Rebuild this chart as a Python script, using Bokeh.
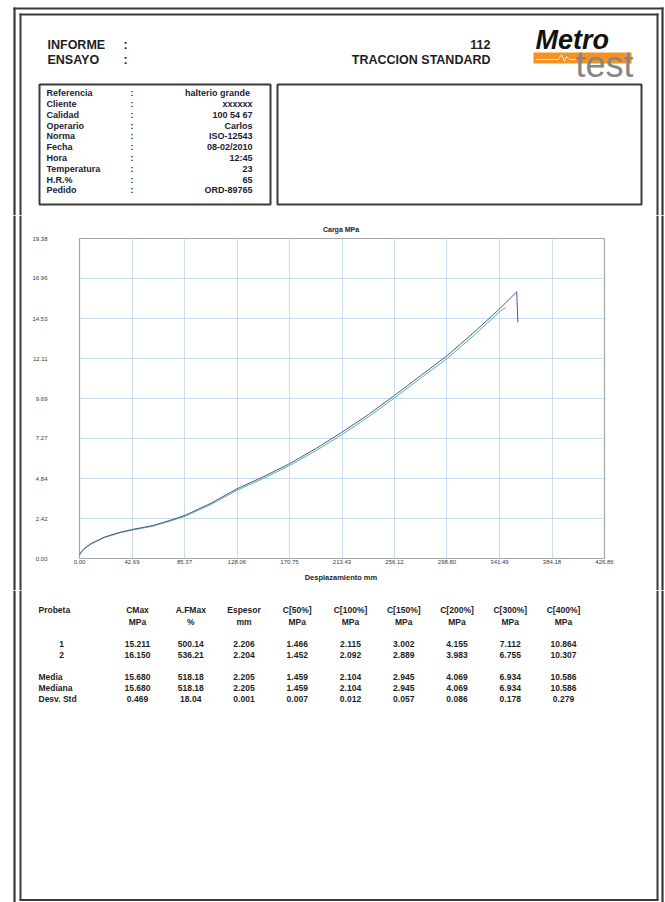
from bokeh.plotting import figure
from bokeh.layouts import column, row
from bokeh.models import Range1d, FixedTicker, PrintfTickFormatter, Div
from bokeh.core.properties import value
from bokeh.embed import file_html
from bokeh.resources import INLINE

# ---------------- data ----------------
informe_value = "112"
ensayo_value = "TRACCION STANDARD"
header_labels = ["INFORME", "ENSAYO"]
header_values = [informe_value, ensayo_value]

info_labels = ["Referencia", "Cliente", "Calidad", "Operario", "Norma", "Fecha",
               "Hora", "Temperatura", "H.R.%", "Pedido"]
info_values = ["halterio  grande", "xxxxxx", "100 54 67", "Carlos", "ISO-12543",
               "08-02/2010", "12:45", "23", "65", "ORD-89765"]

x_ticks = [0.00, 42.69, 85.37, 128.06, 170.75, 213.43, 256.12, 298.80, 341.49, 384.18, 426.86]
y_ticks = [0.00, 2.42, 4.84, 7.27, 9.69, 12.11, 14.53, 16.96, 19.38]

# probeta 1 (teal)
disp_1 = [0, 3, 9, 20, 33, 43, 60, 74, 86, 107, 128, 150, 171, 192, 213, 235, 256, 277, 299, 320, 341, 346.5]
load_1 = [0.22, 0.52, 0.86, 1.26, 1.56, 1.72, 1.96, 2.27, 2.56, 3.28, 4.13, 4.87, 5.64, 6.52, 7.48, 8.58, 9.72,
          10.90, 12.12, 13.47, 14.90, 15.21]
# probeta 2 (dark)
disp_2 = [0, 3, 9, 20, 33, 43, 60, 74, 86, 107, 128, 150, 171, 192, 213, 235, 256, 277, 299, 320, 341, 355.5, 356.4]
load_2 = [0.24, 0.55, 0.89, 1.29, 1.59, 1.76, 2.00, 2.32, 2.62, 3.35, 4.22, 4.97, 5.75, 6.65, 7.63, 8.72, 9.87,
          11.05, 12.29, 13.65, 15.08, 16.15, 14.31]

table_cols = ["CMax", "A.FMax", "Espesor", "C[50%]", "C[100%]", "C[150%]", "C[200%]", "C[300%]", "C[400%]"]
table_units = ["MPa", "%", "mm", "MPa", "MPa", "MPa", "MPa", "MPa", "MPa"]
probeta_ids = ["1", "2"]
probeta_1 = ["15.211", "500.14", "2.206", "1.466", "2.115", "3.002", "4.155", "7.112", "10.864"]
probeta_2 = ["16.150", "536.21", "2.204", "1.452", "2.092", "2.889", "3.983", "6.755", "10.307"]
stat_names = ["Media", "Mediana", "Desv. Std"]
media = ["15.680", "518.18", "2.205", "1.459", "2.104", "2.945", "4.069", "6.934", "10.586"]
mediana = ["15.680", "518.18", "2.205", "1.459", "2.104", "2.945", "4.069", "6.934", "10.586"]
desv_std = ["0.469", "18.04", "0.001", "0.007", "0.012", "0.057", "0.086", "0.178", "0.279"]

# ---------------- styles ----------------
FONT = value("Liberation Sans")
INK = "#1e1e1e"
FRAME = "#3a3a3a"
PAGE_W, PAGE_H = 665, 902


def canvas(x0, x1, y0, y1):
    """A figure whose frame is a blank sheet in page pixel coordinates (y downwards)."""
    f = figure(width=int(x1 - x0), height=int(y1 - y0), x_range=Range1d(x0, x1), y_range=Range1d(y1, y0),
               output_backend="svg", toolbar_location=None, x_axis_type=None, y_axis_type=None,
               min_border=0, outline_line_color=None, background_fill_color="white",
               border_fill_color="white")
    f.grid.visible = False
    return f


def frame_sides(f, y0, y1, inner_y0=None, inner_y1=None):
    f.segment(x0=[14, 662], y0=[y0, y0], x1=[14, 662], y1=[y1, y1], line_color=FRAME, line_width=2.2)
    a = y0 if inner_y0 is None else inner_y0
    b = y1 if inner_y1 is None else inner_y1
    f.segment(x0=[20, 657], y0=[a, a], x1=[20, 657], y1=[b, b], line_color=FRAME, line_width=2)


def txt(f, xs, ys, texts, size, align="left", style="bold", color=INK, baseline="middle", font=FONT):
    f.text(x=xs, y=ys, text=texts, text_font=font, text_font_size=size, text_font_style=style,
           text_align=align, text_baseline=baseline, text_color=color)


# ---------------- header ----------------
H_TOP, H_BOT = 0, 215
head = canvas(0, PAGE_W, H_TOP, H_BOT)
head.segment(x0=[13], y0=[8], x1=[663], y1=[8], line_color=FRAME, line_width=2.2)
head.segment(x0=[19], y0=[14], x1=[658], y1=[14], line_color=FRAME, line_width=2)
frame_sides(head, 7, H_BOT, inner_y0=13)

hy = [44, 59]
txt(head, [47, 47], hy, header_labels, "12.5px")
txt(head, [123, 123], hy, [":", ":"], "12.5px")
txt(head, [490, 490], hy, header_values, "12.5px", align="right")

# logo
head.quad(left=[533], right=[631], top=[52], bottom=[63], fill_color="#f39223", line_color=None)
head.line(x=[536, 558, 561, 564, 566, 569, 576], y=[59, 59, 54, 61, 56, 59, 59], line_color="white",
          line_width=0.8)
txt(head, [535], [39.5], ["Metro"], "27px", style="bold italic", color="#111111")
txt(head, [575], [64], ["test"], "36px", style="normal", color="#858585")

# info boxes
head.quad(left=[39, 277], right=[270, 641], top=[84, 84], bottom=[204, 204], fill_color=None,
          line_color=FRAME, line_width=2)
row_y = [92.7 + 10.8 * i for i in range(len(info_labels))]
txt(head, [46] * len(info_labels), row_y, info_labels, "9px", color="#1c1c38")
txt(head, [130] * len(info_labels), row_y, [":"] * len(info_labels), "9px", color="#1c1c38")
txt(head, [252] * len(info_labels), row_y, info_values, "9px", align="right", color="#1c1c38")

# ---------------- chart ----------------
C_TOP, C_BOT = 215, 590
C_LEFT, C_RIGHT = 24, 645

p = figure(width=C_RIGHT - C_LEFT, height=C_BOT - C_TOP, x_range=Range1d(x_ticks[0], x_ticks[-1]),
           y_range=Range1d(y_ticks[0], y_ticks[-1]), output_backend="svg", toolbar_location=None,
           min_border_left=79 - C_LEFT, min_border_right=C_RIGHT - 604, min_border_top=238 - C_TOP,
           min_border_bottom=C_BOT - 558,
           title="Carga  MPa", background_fill_color="white", border_fill_color="white")
p.title.align = "center"
p.title.text_font = "Liberation Sans"
p.title.text_font_size = "7px"
p.title.text_font_style = "bold"
p.title.text_color = INK
p.title.standoff = 11
p.outline_line_color = "#a6a6a6"
p.outline_line_width = 1.2

p.xaxis.ticker = FixedTicker(ticks=x_ticks)
p.yaxis.ticker = FixedTicker(ticks=y_ticks)
p.xgrid.ticker = FixedTicker(ticks=x_ticks)
p.ygrid.ticker = FixedTicker(ticks=y_ticks)
for ax in (p.xaxis, p.yaxis):
    ax.formatter = PrintfTickFormatter(format="%.2f")
    ax.axis_line_color = None
    ax.major_tick_line_color = None
    ax.minor_tick_line_color = None
    ax.major_tick_out = 0
    ax.major_tick_in = 0
    ax.minor_tick_out = 0
    ax.major_label_text_font = "Liberation Sans"
    ax.major_label_text_font_size = "6px"
    ax.major_label_text_color = "#3a3a3a"
p.xaxis.major_label_standoff = 1
p.yaxis.major_label_standoff = 32
p.xaxis.axis_label = "Desplazamiento  mm"
p.xaxis.axis_label_text_font = "Liberation Sans"
p.xaxis.axis_label_text_font_size = "7.5px"
p.xaxis.axis_label_text_font_style = "bold"
p.xaxis.axis_label_text_color = INK
p.xaxis.axis_label_standoff = 6
p.grid.grid_line_color = "#c9ddf1"
p.grid.grid_line_width = 1

p.line(disp_1, load_1, line_color="#4fb3aa", line_width=1)
p.line(disp_2, load_2, line_color="#55558f", line_width=1)


def strip_fig(x0, x1):
    f = canvas(x0, x1, C_TOP, C_BOT)
    frame_sides(f, C_TOP, C_BOT)
    return f


def strip_div(width, lines):
    stops = ["#ffffff 0px"]
    for a, b in lines:
        stops += [f"#ffffff {a}px", f"{FRAME} {a}px", f"{FRAME} {b}px", f"#ffffff {b}px"]
    stops.append("#ffffff 100%")
    return Div(text="", width=width, height=C_BOT - C_TOP, margin=0,
               styles={"background": "linear-gradient(to right, " + ", ".join(stops) + ")"})


try:
    left_strip = strip_fig(0, C_LEFT)
    right_strip = strip_fig(C_RIGHT, PAGE_W)
    left_strip.frame_align = False
    right_strip.frame_align = False
    p.frame_align = False
except AttributeError:
    left_strip = strip_div(C_LEFT, [(13, 15), (19, 21)])
    right_strip = strip_div(PAGE_W - C_RIGHT, [(656 - C_RIGHT, 658 - C_RIGHT), (661 - C_RIGHT, 663 - C_RIGHT)])

# ---------------- table ----------------
T_TOP, T_BOT = 590, PAGE_H
tab = canvas(0, PAGE_W, T_TOP, T_BOT)
frame_sides(tab, T_TOP, T_BOT, inner_y1=900)
tab.segment(x0=[19], y0=[899.5], x1=[658], y1=[899.5], line_color=FRAME, line_width=2)

col_x = [137 + 53.25 * i for i in range(len(table_cols))]
FS = "8.5px"
txt(tab, [38], [609], ["Probeta"], FS)
txt(tab, col_x, [609] * len(col_x), table_cols, FS, align="center")
txt(tab, col_x, [621] * len(col_x), table_units, FS, align="center")
txt(tab, [61, 61], [643, 654], probeta_ids, FS, align="center")
txt(tab, col_x, [643] * len(col_x), probeta_1, FS, align="center")
txt(tab, col_x, [654] * len(col_x), probeta_2, FS, align="center")
stat_y = [676, 687, 698]
txt(tab, [38] * 3, stat_y, stat_names, FS)
for yy, vals in zip(stat_y, [media, mediana, desv_std]):
    txt(tab, col_x, [yy] * len(col_x), vals, FS, align="center")

layout = column(head, row(left_strip, p, right_strip), tab)
open("out.html", "w").write(file_html(layout, INLINE))
